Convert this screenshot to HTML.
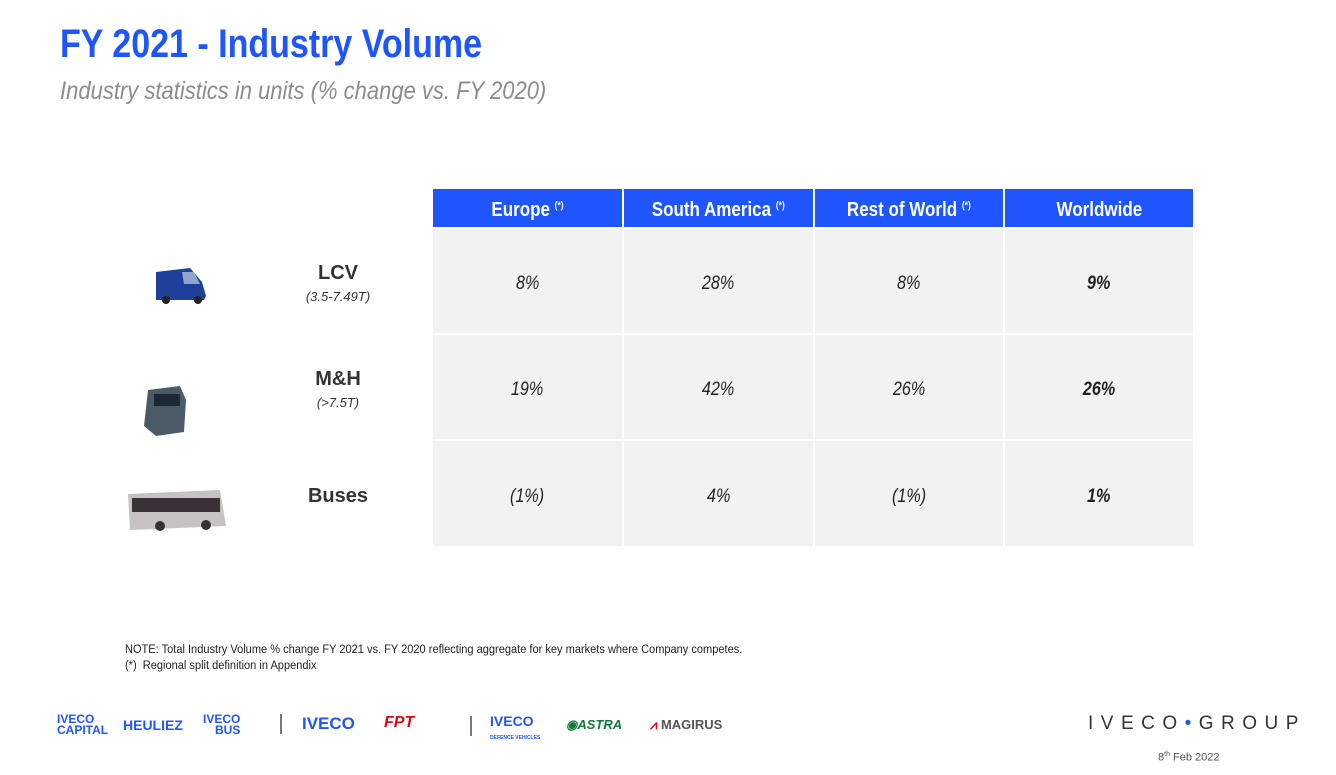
<!DOCTYPE html>
<html><head><meta charset="utf-8"><style>
body{margin:0;width:1336px;height:775px;background:#fff;position:relative;overflow:hidden;font-family:"Liberation Sans",sans-serif}
.a{position:absolute;white-space:nowrap}
.sx{display:inline-block;transform-origin:left top}
.cell{position:absolute;background:#f2f2f2;display:flex;align-items:center;justify-content:center;font-style:italic;font-size:19px;color:#222;padding-top:6px;box-sizing:border-box}
.cell span{display:inline-block;transform:scaleX(0.85)}
.hd{position:absolute;background:#1f55ff;color:#fff;font-weight:bold;font-size:20px;display:flex;align-items:center;justify-content:center;top:189px;height:38px;padding-top:4px;box-sizing:border-box}
.hd span{display:inline-block;transform:scaleX(0.85)}
.hd sup{font-size:10px}
.lbl{position:absolute;width:150px;text-align:center;color:#333}
</style></head><body>
<div class="a" style="left:60px;top:22px;font-size:40px;font-weight:bold;color:#1f55ff"><span class="sx" style="transform:scaleX(0.85)">FY 2021 - Industry Volume</span></div>
<div class="a" style="left:60px;top:77px;font-size:25px;font-style:italic;color:#8c8c8c"><span class="sx" style="transform:scaleX(0.88)">Industry statistics in units (% change vs. FY 2020)</span></div>

<div class="hd" style="left:433px;width:189px"><span>Europe <sup>(*)</sup></span></div>
<div class="hd" style="left:624px;width:189px"><span>South America <sup>(*)</sup></span></div>
<div class="hd" style="left:815px;width:188px"><span>Rest of World <sup>(*)</sup></span></div>
<div class="hd" style="left:1005px;width:188px"><span>Worldwide</span></div>

<div class="cell" style="left:433px;top:229px;width:189px;height:104px"><span>8%</span></div>
<div class="cell" style="left:624px;top:229px;width:189px;height:104px"><span>28%</span></div>
<div class="cell" style="left:815px;top:229px;width:188px;height:104px"><span>8%</span></div>
<div class="cell" style="left:1005px;top:229px;width:188px;height:104px;font-weight:bold"><span>9%</span></div>

<div class="cell" style="left:433px;top:335px;width:189px;height:104px"><span>19%</span></div>
<div class="cell" style="left:624px;top:335px;width:189px;height:104px"><span>42%</span></div>
<div class="cell" style="left:815px;top:335px;width:188px;height:104px"><span>26%</span></div>
<div class="cell" style="left:1005px;top:335px;width:188px;height:104px;font-weight:bold"><span>26%</span></div>

<div class="cell" style="left:433px;top:441px;width:189px;height:105px"><span>(1%)</span></div>
<div class="cell" style="left:624px;top:441px;width:189px;height:105px"><span>4%</span></div>
<div class="cell" style="left:815px;top:441px;width:188px;height:105px"><span>(1%)</span></div>
<div class="cell" style="left:1005px;top:441px;width:188px;height:105px;font-weight:bold"><span>1%</span></div>

<div class="lbl" style="left:263px;top:262px;font-size:20px;font-weight:bold">LCV</div>
<div class="lbl" style="left:263px;top:289px;font-size:13px;font-style:italic">(3.5-7.49T)</div>
<div class="lbl" style="left:263px;top:368px;font-size:20px;font-weight:bold">M&amp;H</div>
<div class="lbl" style="left:263px;top:395px;font-size:13px;font-style:italic">(&gt;7.5T)</div>
<div class="lbl" style="left:263px;top:485px;font-size:20px;font-weight:bold">Buses</div>

<svg class="a" style="left:120px;top:260px" width="120" height="280">
<path d="M36 12 L70 8 L82 22 L86 36 L84 40 L36 40 Z" fill="#1e3f9a"/>
<circle cx="46" cy="40" r="4" fill="#222"/><circle cx="78" cy="40" r="4" fill="#222"/>
<path d="M62 12 L74 12 L80 24 L64 24 Z" fill="#8ea6cc"/>
<path d="M28 130 L60 126 L66 140 L64 172 L36 176 L24 166 Z" fill="#4a5a66"/>
<rect x="34" y="134" width="26" height="12" fill="#1c2833"/>
<path d="M8 234 L100 230 L106 266 L10 270 Z" fill="#c7c1c0"/>
<rect x="12" y="238" width="88" height="14" fill="#3a3036"/>
<circle cx="40" cy="266" r="5" fill="#333"/><circle cx="86" cy="265" r="5" fill="#333"/>
</svg>

<div class="a" style="left:125px;top:644px;font-size:11.5px;color:#222"><span class="sx" style="transform:scaleX(0.96)">NOTE: Total Industry Volume % change FY 2021 vs. FY 2020 reflecting aggregate for key markets where Company competes.</span></div>
<div class="a" style="left:125px;top:660px;font-size:11.5px;color:#222"><span class="sx" style="transform:scaleX(0.96)">(*)&nbsp; Regional split definition in Appendix</span></div>

<div class="a" style="left:57px;top:714px;font-size:12px;font-weight:bold;color:#1f55ff;line-height:11px">IVECO<br>CAPITAL</div>
<div class="a" style="left:123px;top:717px;font-size:14px;font-weight:bold;color:#1f55ff">HEULIEZ</div>
<div class="a" style="left:203px;top:714px;font-size:12px;font-weight:bold;color:#1f55ff;line-height:11px;text-align:right">IVECO<br>BUS</div>
<div class="a" style="left:280px;top:714px;width:2px;height:20px;background:#777"></div>
<div class="a" style="left:302px;top:714px;font-size:17px;font-weight:bold;color:#1f55ff">IVECO</div>
<div class="a" style="left:384px;top:714px;font-size:16px;font-weight:bold;font-style:italic;color:#e30613">FPT</div>
<div class="a" style="left:470px;top:716px;width:2px;height:20px;background:#777"></div>
<div class="a" style="left:490px;top:715px;font-size:14px;font-weight:bold;color:#1f55ff;line-height:13px">IVECO<br><span style="font-size:5px">DEFENCE VEHICLES</span></div>
<div class="a" style="left:566px;top:717px;font-size:13px;font-weight:bold;font-style:italic;color:#0f7a3e">◉ASTRA</div>
<div class="a" style="left:650px;top:717px;font-size:13px;font-weight:bold;color:#555"><span style="color:#e30613">⩘</span> MAGIRUS</div>
<div class="a" style="left:1088px;top:713px;font-size:19px;letter-spacing:7.5px;color:#333">IVECO<span style="color:#1f55ff">•</span>GROUP</div>
<div class="a" style="left:1158px;top:751px;font-size:11px;color:#555">8<sup style="font-size:7px">th</sup> Feb 2022</div>
</body></html>
